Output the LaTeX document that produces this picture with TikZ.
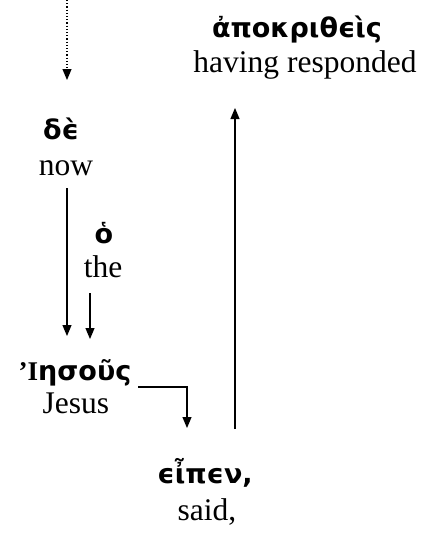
\documentclass[tikz,border=0pt]{standalone}
\usepackage{fontspec}
\setmainfont{Liberation Serif}
\newfontfamily\grk{DejaVu Sans}
\newfontfamily\grkserif{Liberation Serif}
\usetikzlibrary{arrows.meta}
\tikzset{
  eng/.style={anchor=base,inner sep=0pt,font=\fontsize{31.5}{34}\selectfont},
  gr/.style={anchor=base,inner sep=0pt,font=\fontsize{27}{30}\selectfont\grk\bfseries},
  arr/.style={line width=1.2pt,-{Triangle[length=11pt,width=9pt]}},
  dotarr/.style={arr,dotted}
}
\begin{document}
\begin{tikzpicture}[x=1pt,y=-1pt]
\useasboundingbox (0,0) rectangle (422,542);
% texts
\node[gr]  (apo)  at (297,37)  {ἀποκριθϵὶς};
\node[eng] (hav)  at (305,72)  {having responded};
\node[gr]  (de)   at (61,139)  {δϵ̀};
\node[eng] (now)  at (66,175)  {now};
\node[gr]  (ho)   at (104,243) {ὁ};
\node[eng] (the)  at (103,277) {the};
\node[gr]  (ies)  at (75,380)  {{\grkserif\bfseries ’Ι}ησοῦς};
\node[eng] (jes)  at (76,413)  {Jesus};
\node[gr]  (eip)  at (205,483) {ϵἶπϵν,};
\node[eng] (said) at (207,520) {said,};
% connector ends
\coordinate (top)  at (67,0);
\coordinate (topE) at (67,80);
\coordinate (deS)  at (67,188);
\coordinate (iesN) at (67,336);
\coordinate (theS) at (90,293);
\coordinate (iesN2) at (90,339);
\coordinate (iesE) at (138,387);
\coordinate (bend) at (187,387);
\coordinate (eipN) at (187,428);
\coordinate (eipE) at (235,429);
\coordinate (apoS) at (235,108);
% connectors
\draw[dotarr] (top) -- (topE);
\draw[arr] (deS) -- (iesN);
\draw[arr] (theS) -- (iesN2);
\draw[arr] (iesE) -- (bend) -- (eipN);
\draw[arr] (eipE) -- (apoS);
\end{tikzpicture}
\end{document}
